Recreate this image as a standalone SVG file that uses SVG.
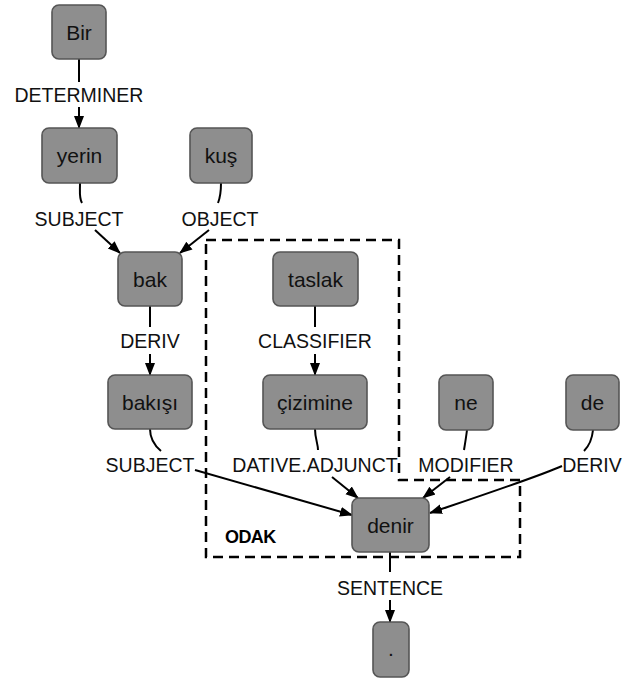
<svg xmlns="http://www.w3.org/2000/svg" width="642" height="679" viewBox="0 0 642 679">
<defs>
<marker id="arr" markerUnits="userSpaceOnUse" markerWidth="13" markerHeight="13" viewBox="0 0 13 13" refX="12" refY="6.5" orient="auto">
<path d="M0,1.5 L13,6.5 L0,11.5 Z" fill="#000"/>
</marker>
</defs>
<style>
.n rect{fill:#8e8e8e;stroke:#555;stroke-width:1.6}
.n text{font-family:"Liberation Sans",Arial,sans-serif;font-size:21px;fill:#111;text-anchor:middle}
.lbl{font-family:"Liberation Sans",Arial,sans-serif;font-size:19.5px;fill:#111;text-anchor:middle}
.e{fill:none;stroke:#000;stroke-width:2}
.a{fill:none;stroke:#000;stroke-width:2;marker-end:url(#arr)}
.box{fill:none;stroke:#000;stroke-width:2.5;stroke-dasharray:10,6}
</style>
<rect width="642" height="679" fill="#fff"/>
<path class="box" d="M206,240 H399 V480 H520 V557 H206 Z"/>
<text x="225" y="543" font-family="'Liberation Sans',Arial,sans-serif" font-size="18" font-weight="bold" letter-spacing="-0.6" fill="#000">ODAK</text>
<g id="connectors">
<path class="e" d="M79,59 L79,82"/>
<path class="a" d="M79,107 L79,128"/>
<path class="e" d="M80,183 C80,193 79,198 82,203"/>
<path class="a" d="M95,230 L120,253"/>
<path class="e" d="M221,183 C221,192 220,198 218,203"/>
<path class="a" d="M209,230 L180,253"/>
<path class="e" d="M150,306 L150,327"/>
<path class="a" d="M150,354 L150,375"/>
<path class="e" d="M315,306 L315,327"/>
<path class="a" d="M315,354 L315,375"/>
<path class="e" d="M150,429 C150,440 155,446 161,451"/>
<path class="e" d="M315,429 C315,438 318,444 318,450"/>
<path class="e" d="M467,430 C466,438 465,444 464,450"/>
<path class="e" d="M593,430 C592,440 589,446 584,451"/>
<path class="a" d="M195,470 L352,515"/>
<path class="a" d="M332,477 L358,498"/>
<path class="a" d="M450,477 L423,498"/>
<path class="a" d="M562,466 C540,476 480,496 430,513"/>
<path class="e" d="M390,552 L390,572"/>
<path class="a" d="M390,600 L390,622"/>
</g>
<g id="labels">
<text class="lbl" x="79" y="102">DETERMINER</text>
<text class="lbl" x="79" y="226">SUBJECT</text>
<text class="lbl" x="220" y="226">OBJECT</text>
<text class="lbl" x="150" y="348">DERIV</text>
<text class="lbl" x="315" y="348">CLASSIFIER</text>
<text class="lbl" x="150" y="472">SUBJECT</text>
<text class="lbl" x="315" y="472">DATIVE.ADJUNCT</text>
<text class="lbl" x="466" y="472">MODIFIER</text>
<text class="lbl" x="592" y="472">DERIV</text>
<text class="lbl" x="390" y="595">SENTENCE</text>
</g>
<g id="n-bir" class="n"><rect x="52" y="5" width="54" height="54" rx="7"/><text x="79" y="40">Bir</text></g>
<g id="n-yerin" class="n"><rect x="42" y="128" width="75" height="55" rx="7"/><text x="79.5" y="163">yerin</text></g>
<g id="n-kus" class="n"><rect x="190" y="128" width="62" height="55" rx="7"/><text x="221" y="163">kuş</text></g>
<g id="n-bak" class="n"><rect x="118" y="252" width="64" height="54" rx="7"/><text x="150" y="287">bak</text></g>
<g id="n-taslak" class="n"><rect x="273" y="252" width="85" height="54" rx="7"/><text x="315.5" y="287">taslak</text></g>
<g id="n-bakisi" class="n"><rect x="108" y="375" width="84" height="54" rx="7"/><text x="150" y="410">bakışı</text></g>
<g id="n-cizimine" class="n"><rect x="263" y="375" width="104" height="54" rx="7"/><text x="315" y="410">çizimine</text></g>
<g id="n-ne" class="n"><rect x="439" y="375" width="54" height="55" rx="7"/><text x="466" y="410">ne</text></g>
<g id="n-de" class="n"><rect x="566" y="375" width="53" height="55" rx="7"/><text x="592.5" y="410">de</text></g>
<g id="n-denir" class="n"><rect x="352" y="498" width="77" height="54" rx="7"/><text x="390.5" y="533">denir</text></g>
<g id="n-dot" class="n"><rect x="373" y="622" width="36" height="55" rx="7"/><text x="391" y="656">.</text></g>
</svg>
